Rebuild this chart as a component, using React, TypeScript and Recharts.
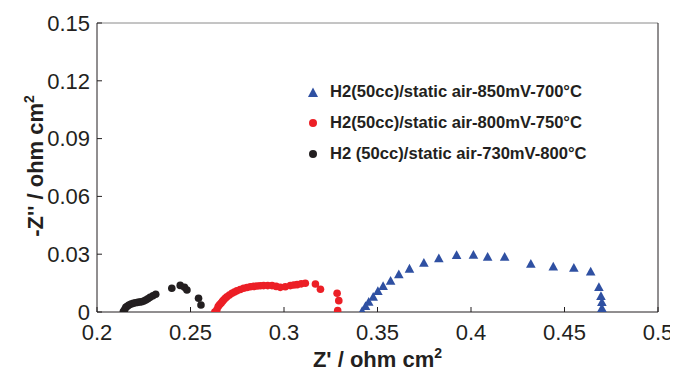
import React from "react";
import { ScatterChart, Scatter, XAxis, YAxis, ReferenceLine } from "recharts";

const xTicks = [0.2, 0.25, 0.3, 0.35, 0.4, 0.45, 0.5];
const yTicks = [0, 0.03, 0.06, 0.09, 0.12, 0.15];

const seriesNames = [
  "H2(50cc)/static air-850mV-700°C",
  "H2(50cc)/static air-800mV-750°C",
  "H2 (50cc)/static air-730mV-800°C",
];

const blueZr = [0.3418, 0.3436, 0.3453, 0.3477, 0.3502, 0.353, 0.357, 0.3614, 0.3671, 0.3748, 0.3828, 0.3923, 0.4013, 0.4089, 0.418, 0.432, 0.444, 0.455, 0.464, 0.4684, 0.4695, 0.47, 0.47];
const blueZi = [0.0005, 0.0031, 0.0053, 0.0079, 0.0109, 0.0135, 0.0162, 0.0196, 0.0225, 0.0256, 0.0279, 0.0296, 0.0297, 0.0287, 0.0287, 0.025, 0.0236, 0.023, 0.021, 0.013, 0.0083, 0.0052, 0.0021];

const redZr = [0.263, 0.2641, 0.2648, 0.2655, 0.2663, 0.267, 0.2677, 0.2686, 0.2695, 0.2708, 0.2722, 0.2735, 0.2748, 0.2766, 0.2784, 0.2802, 0.282, 0.2838, 0.2856, 0.2873, 0.2891, 0.2913, 0.2936, 0.2958, 0.298, 0.3007, 0.3034, 0.3052, 0.307, 0.3092, 0.3114, 0.3168, 0.3195, 0.3284, 0.3293, 0.3287];
const redZi = [0.0, 0.0012, 0.0028, 0.0037, 0.0045, 0.0054, 0.0062, 0.0071, 0.0079, 0.0088, 0.0097, 0.0104, 0.011, 0.0117, 0.0123, 0.0127, 0.0131, 0.0133, 0.0135, 0.0136, 0.0137, 0.0137, 0.0137, 0.0133, 0.0128, 0.0131, 0.0137, 0.014, 0.0142, 0.0146, 0.0149, 0.0145, 0.0118, 0.0097, 0.0059, 0.0007];

const blackZr = [0.2141, 0.2148, 0.2154, 0.2162, 0.2171, 0.2182, 0.2194, 0.2206, 0.2218, 0.2229, 0.2239, 0.225, 0.2261, 0.2272, 0.2284, 0.2299, 0.2314, 0.24, 0.2445, 0.2468, 0.2481, 0.2543, 0.2556];
const blackZi = [0.0002, 0.0013, 0.0024, 0.003, 0.0036, 0.0041, 0.0045, 0.0048, 0.005, 0.0052, 0.0053, 0.0057, 0.0062, 0.0069, 0.0076, 0.0084, 0.0092, 0.0123, 0.0138, 0.0128, 0.0114, 0.0071, 0.0036];

const BLUE = "#2f50a2";
const RED = "#ec1f26";
const BLACK = "#231f20";
const FONT = "'Liberation Sans', Arial, Helvetica, sans-serif";

const toPts = (xs: number[], ys: number[]) => xs.map((x, i) => ({ x, y: ys[i] }));

const blueData = toPts(blueZr, blueZi);
const redData = toPts(redZr, redZi);
const blackData = toPts(blackZr, blackZi);

const fmt = (v: number) => String(Number(v.toFixed(2)));

const Triangle = (props: any) => {
  const { cx, cy } = props;
  if (cx == null || cy == null) return null;
  return <polygon points={`${cx - 4.8},${cy + 4} ${cx + 4.8},${cy + 4} ${cx},${cy - 4.8}`} fill={BLUE} />;
};
const makeCircle = (color: string) => (props: any) => {
  const { cx, cy } = props;
  if (cx == null || cy == null) return null;
  return <circle cx={cx} cy={cy} r={3.8} fill={color} />;
};

const XTitle = (props: any) => {
  const vb = props.viewBox || { x: 89, width: 561 };
  return (
    <text x={vb.x + vb.width / 2} y={359} textAnchor="middle" fontFamily={FONT} fontWeight="bold" fontSize={22} fill={BLACK}>
      Z' / ohm cm<tspan dy={-9} fontSize={14}>2</tspan>
    </text>
  );
};
const YTitle = () => {
  const x = 35;
  const y = 158;
  return (
    <text x={x} y={y} transform={`rotate(-90, ${x}, ${y})`} textAnchor="middle" fontFamily={FONT} fontWeight="bold" fontSize={22} fill={BLACK}>
      -Z'' / ohm cm<tspan dy={-9} fontSize={14}>2</tspan>
    </text>
  );
};

const legendColors = [BLUE, RED, BLACK];

export default function App() {
  return (
    <div style={{ position: "relative", width: 670, height: 375 }}>
      <ScatterChart width={670} height={375} margin={{ top: 15, right: 20, left: 0, bottom: 21 }}>
        <XAxis
          type="number"
          dataKey="x"
          domain={[0.2, 0.5]}
          ticks={xTicks}
          tickFormatter={fmt}
          height={50}
          tickSize={-5}
          tickMargin={17}
          axisLine={{ stroke: BLACK }}
          tickLine={{ stroke: BLACK }}
          tick={{ fill: BLACK, fontSize: 22, fontFamily: FONT }}
          allowDataOverflow
          label={<XTitle />}
        />
        <YAxis
          type="number"
          dataKey="y"
          domain={[0, 0.15]}
          ticks={yTicks}
          tickFormatter={fmt}
          width={89}
          tickSize={-5}
          tickMargin={12}
          axisLine={{ stroke: BLACK }}
          tickLine={{ stroke: BLACK }}
          tick={{ fill: BLACK, fontSize: 22, fontFamily: FONT }}
          allowDataOverflow
          label={<YTitle />}
        />
        <ReferenceLine y={0.15} stroke="#8a8a8a" />
        <ReferenceLine x={0.5} stroke={BLACK} />
        <Scatter data={blackData} shape={makeCircle(BLACK)} isAnimationActive={false} />
        <Scatter data={redData} shape={makeCircle(RED)} isAnimationActive={false} />
        <Scatter data={blueData} shape={<Triangle />} isAnimationActive={false} />
      </ScatterChart>
      <div style={{ position: "absolute", left: 298, top: 68, fontFamily: FONT }}>
        {seriesNames.map((name, i) => (
          <div key={name} style={{ display: "flex", alignItems: "center", height: 31 }}>
            <svg width={14} height={14} style={{ marginRight: 10 }}>
              {i === 0 ? (
                <polygon points="2,12 12,12 7,2.5" fill={legendColors[i]} />
              ) : (
                <circle cx={7} cy={7} r={4} fill={legendColors[i]} />
              )}
            </svg>
            <span style={{ fontSize: 16.6, fontWeight: "bold", color: BLACK, whiteSpace: "nowrap" }}>{name}</span>
          </div>
        ))}
      </div>
    </div>
  );
}
